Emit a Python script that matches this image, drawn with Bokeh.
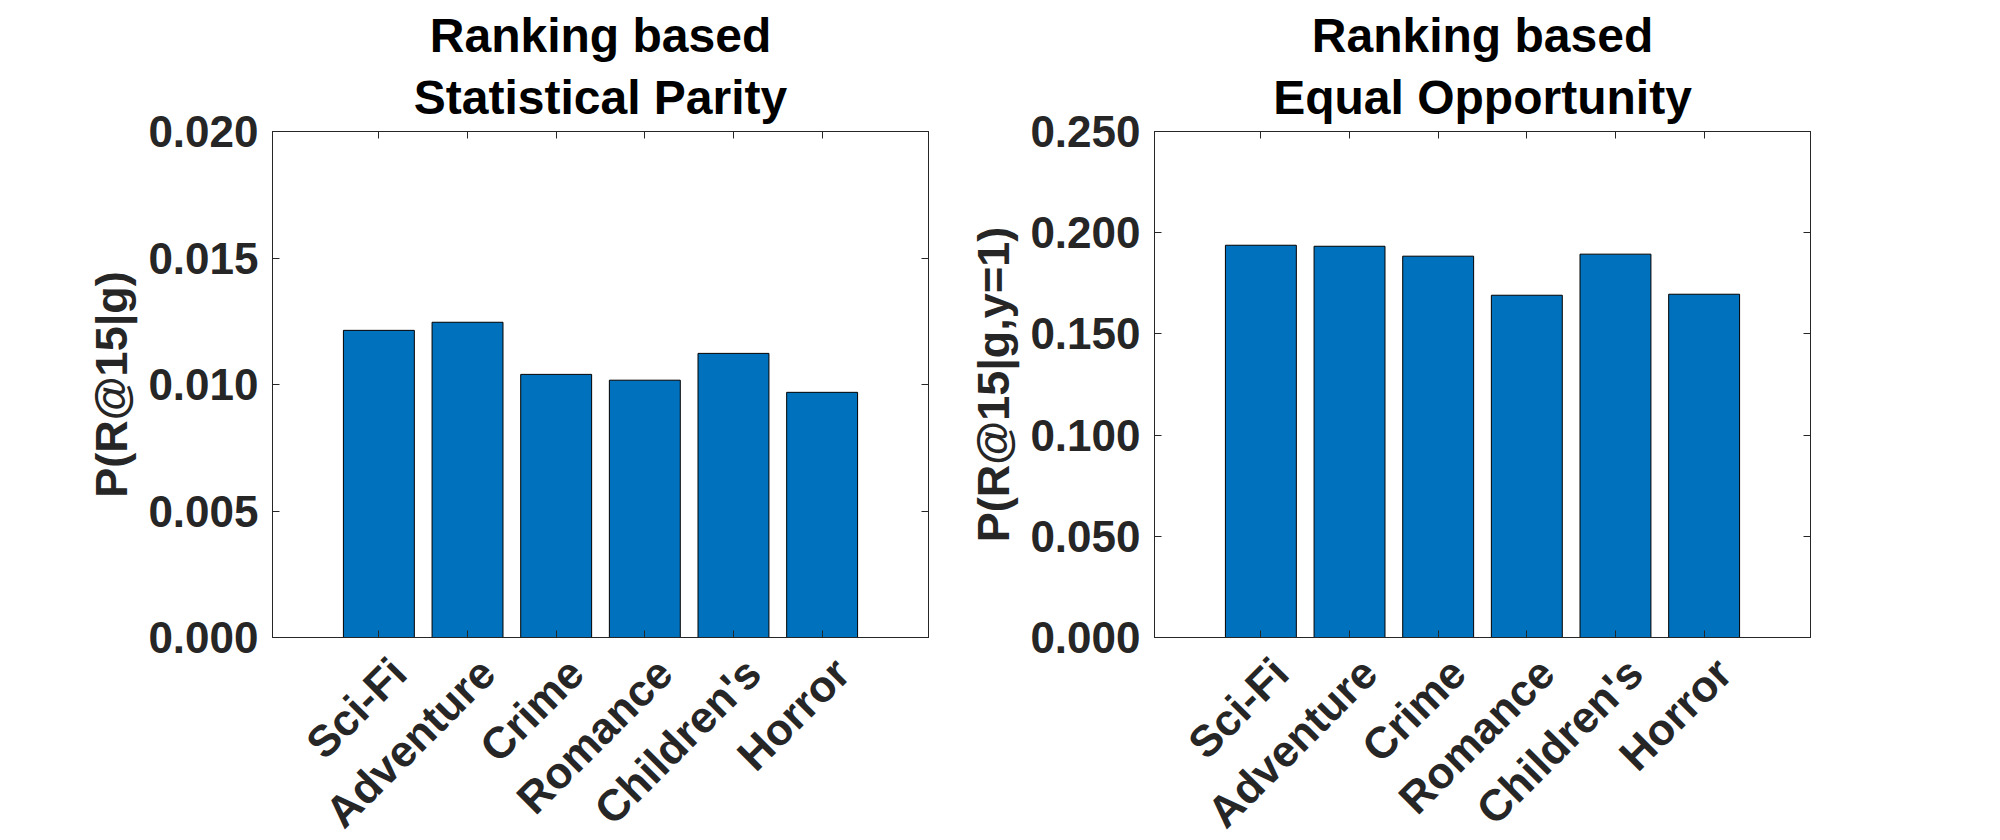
import math
from bokeh.plotting import figure
from bokeh.layouts import row
from bokeh.models import (Range1d, FixedTicker, NumeralTickFormatter, LinearAxis,
                          Title, CustomJSTickFormatter)
from bokeh.embed import file_html
from bokeh.resources import INLINE

categories = ["Sci-Fi", "Adventure", "Crime", "Romance", "Children's", "Horror"]
sp_values = [0.01214, 0.01246, 0.01040, 0.01017, 0.01123, 0.00969]
eo_values = [0.1938, 0.1933, 0.1884, 0.1691, 0.1894, 0.1696]
sp_ticks = [0.0, 0.005, 0.010, 0.015, 0.020]
eo_ticks = [0.0, 0.05, 0.10, 0.15, 0.20, 0.25]

FONT = "Liberation Sans"
BAR = "#0072BD"
AX = "#262626"
TICK_SIZE = "44px"
LABEL_SHIFT = 0.22  # rotated labels end right of their tick, as in the reference


def make(values, yticks, ymax, t1, t2, ylabel, left, right):
    xs = list(range(1, len(categories) + 1))
    x0, x1 = -0.2, len(categories) + 1.2
    p = figure(frame_width=656, frame_height=506, min_border_left=left,
               min_border_right=right, min_border_top=131, min_border_bottom=192,
               x_range=Range1d(x0, x1), y_range=Range1d(0, ymax),
               output_backend="svg", toolbar_location=None, title=None)
    p.extra_x_ranges = {"lab": Range1d(x0 - LABEL_SHIFT, x1 - LABEL_SHIFT)}
    p.vbar(x=xs, top=values, width=0.8, bottom=0, fill_color=BAR,
           line_color="black", line_width=1)
    p.xgrid.visible = False
    p.ygrid.visible = False
    p.outline_line_color = AX
    p.outline_line_width = 1
    p.background_fill_color = "white"
    p.border_fill_color = "white"

    empty = CustomJSTickFormatter(code="return ''")

    xa = p.xaxis[0]
    xa.ticker = FixedTicker(ticks=xs)
    xa.formatter = empty
    xa.major_label_standoff = 0
    xa.major_label_text_font_size = "1px"
    ya = p.yaxis[0]
    ya.ticker = FixedTicker(ticks=yticks)
    ya.formatter = NumeralTickFormatter(format="0.000")
    ya.axis_label = ylabel
    for a in (xa, ya):
        a.major_tick_in = 7
        a.major_tick_out = 0
        a.minor_tick_line_color = None
        a.axis_line_color = AX
        a.major_tick_line_color = AX
        a.axis_label_text_font = FONT
        a.axis_label_text_font_style = "bold"
        a.axis_label_text_font_size = "45px"
        a.axis_label_text_color = AX
    ya.major_label_text_font = FONT
    ya.major_label_text_font_style = "bold"
    ya.major_label_text_font_size = TICK_SIZE
    ya.major_label_text_color = AX
    ya.major_label_standoff = 14
    ya.axis_label_standoff = 8

    # category labels, rotated 45 degrees
    la = LinearAxis(x_range_name="lab", ticker=FixedTicker(ticks=xs),
                    major_label_overrides={i: c for i, c in zip(xs, categories)},
                    major_label_orientation=math.pi / 4,
                    axis_line_color=None, major_tick_line_color=None,
                    minor_tick_line_color=None, major_tick_in=0, major_tick_out=0,
                    major_label_standoff=28, major_label_text_font=FONT,
                    major_label_text_font_style="bold",
                    major_label_text_font_size=TICK_SIZE, major_label_text_color=AX)
    p.add_layout(la, "below")

    ra = LinearAxis(ticker=FixedTicker(ticks=yticks), formatter=empty,
                    major_tick_in=7, major_tick_out=0, minor_tick_line_color=None,
                    axis_line_color=AX, major_tick_line_color=AX,
                    major_label_standoff=0, major_label_text_font_size="1px")
    p.add_layout(ra, "right")
    ta = LinearAxis(ticker=FixedTicker(ticks=xs), formatter=empty,
                    major_tick_in=7, major_tick_out=0, minor_tick_line_color=None,
                    axis_line_color=AX, major_tick_line_color=AX,
                    major_label_standoff=0, major_label_text_font_size="1px")
    p.add_layout(ta, "above")
    p.add_layout(Title(text=t2, align="center", text_font=FONT,
                       text_font_style="bold", text_font_size="48px",
                       text_color="black", standoff=15, offset=0), "above")
    p.add_layout(Title(text=t1, align="center", text_font=FONT,
                       text_font_style="bold", text_font_size="48px",
                       text_color="black", standoff=0, offset=0), "above")
    return p


p1 = make(sp_values, sp_ticks, 0.020, "Ranking based", "Statistical Parity",
          "P(R@15|g)", 272, 31)
p2 = make(eo_values, eo_ticks, 0.25, "Ranking based", "Equal Opportunity",
          "P(R@15|g,y=1)", 195, 40)

layout = row(p1, p2, spacing=0)
open("out.html", "w").write(file_html(layout, INLINE))
